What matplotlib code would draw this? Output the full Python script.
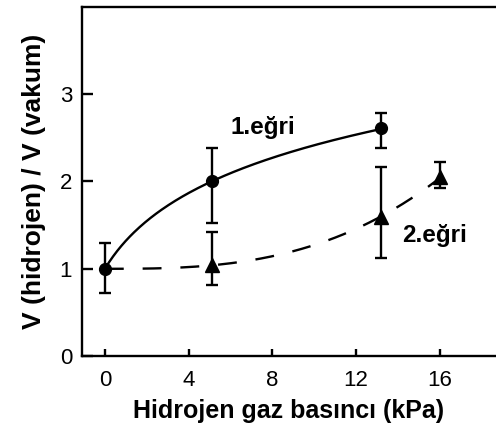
import numpy as np
import matplotlib
matplotlib.use("Agg")
import matplotlib.pyplot as plt

plt.rcParams['font.family'] = ['Liberation Sans', 'DejaVu Sans']

# 1. egri (daireler)
x1 = np.array([0.0, 5.1, 13.2])
y1 = np.array([1.0, 2.0, 2.61])
y1_lo = np.array([0.72, 1.52, 2.38])
y1_hi = np.array([1.29, 2.38, 2.78])

# 2. egri (ucgenler)
x2 = np.array([5.1, 13.2, 16.0])
y2 = np.array([1.04, 1.59, 2.05])
y2_lo = np.array([0.82, 1.12, 1.92])
y2_hi = np.array([1.42, 2.17, 2.22])

xticks = [0, 4, 8, 12, 16]
yticks = [0, 1, 2, 3]

# egri 1: y = 1 + a*ln(1 + x/k)
k = 2.0
a = (y1[1] - y1[0]) / np.log(1 + x1[1] / k)
xs1 = np.linspace(0, x1[-1], 200)
ys1 = y1[0] + a * np.log(1 + xs1 / k)

# egri 2: y = 1 + c*x^p
p, logc = np.polyfit(np.log(x2), np.log(y2 - 1.0), 1)
xs2 = np.linspace(0, x2[-1], 200)
ys2 = 1.0 + np.exp(logc) * xs2 ** p

fig = plt.figure(figsize=(4.96, 4.25), dpi=100)
ax = fig.add_axes([0.165, 0.162, 0.835, 0.822])

ax.plot(xs1, ys1, color='black', lw=1.7)
ax.plot(xs2, ys2, color='black', lw=1.7, dashes=(8, 8))

ax.errorbar(x1, y1, yerr=[y1 - y1_lo, y1_hi - y1], fmt='o', color='black',
            ms=8.5, elinewidth=1.7, capsize=4, capthick=1.7)
ax.errorbar(x2, y2, yerr=[y2 - y2_lo, y2_hi - y2], fmt='^', color='black',
            ms=9.5, elinewidth=1.7, capsize=4, capthick=1.7)

ax.text(6.0, 2.62, '1.eğri', fontsize=17.5, fontweight='bold', va='center')
ax.text(14.2, 1.38, '2.eğri', fontsize=17.5, fontweight='bold', va='center')

ax.set_xlim(-1.1, 18.7)
ax.set_ylim(0, 4)
ax.set_xticks(xticks)
ax.set_yticks(yticks)
ax.tick_params(direction='in', width=1.7, labelsize=16)
ax.tick_params(axis='y', length=8, pad=7)
ax.tick_params(axis='x', length=5, pad=10)
for s in ['left', 'bottom', 'top']:
    ax.spines[s].set_linewidth(1.7)
ax.spines['right'].set_visible(False)

ax.set_xlabel('Hidrojen gaz basıncı (kPa)', fontsize=18, fontweight='bold', labelpad=6)
ax.set_ylabel('V (hidrojen) / V (vakum)', fontsize=19, fontweight='bold', labelpad=10)

fig.savefig('out.png', dpi=100)
